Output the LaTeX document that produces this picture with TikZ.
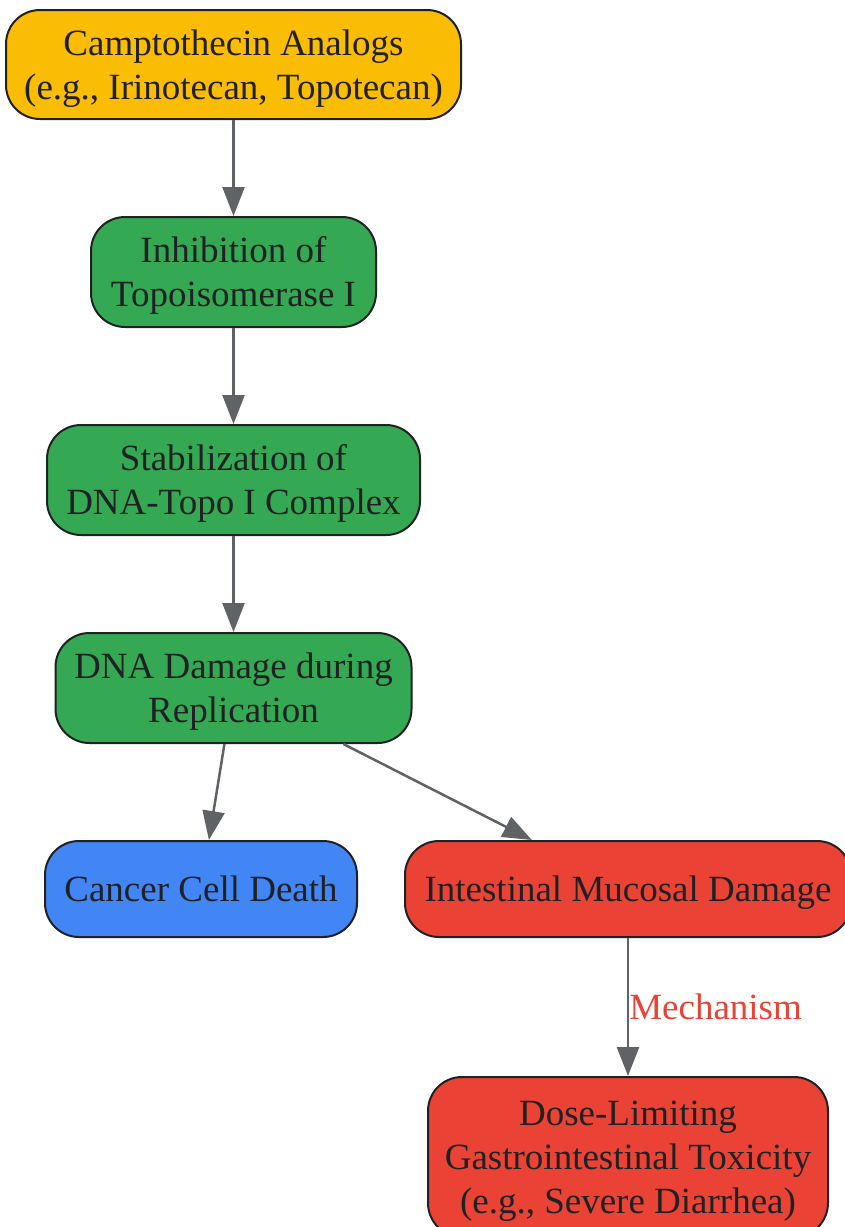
\documentclass[tikz,border=0pt]{standalone}
\usepackage{fontspec}
\setmainfont{Liberation Serif}
\usetikzlibrary{arrows.meta}
\definecolor{ink}{HTML}{202124}
\definecolor{wire}{HTML}{5F6368}
\definecolor{gyellow}{HTML}{FBBC04}
\definecolor{ggreen}{HTML}{34A853}
\definecolor{gblue}{HTML}{4285F4}
\definecolor{gred}{HTML}{EA4335}
% line box as tall as one line of the diagram
\newcommand{\lnstrut}{\rule[-9.5pt]{0pt}{44pt}}

\begin{document}
\begin{tikzpicture}[x=1pt,y=-1pt]
    \useasboundingbox (0,0) rectangle (844,1227);
    \begin{scope}[every node/.style={rectangle,rounded corners=34pt,draw=ink,line width=2pt,text=ink,
        align=center,inner sep=0pt,font=\fontsize{37}{44}\selectfont}]
        \node[fill=gyellow,minimum width=455pt,minimum height=109pt] (1) at (233.5,64.5) {\lnstrut Camptothecin Analogs\\(e.g., Irinotecan, Topotecan)\lnstrut};
        \node[fill=ggreen,minimum width=285pt,minimum height=110pt] (2) at (233.5,272) {\lnstrut Inhibition of\\Topoisomerase I\lnstrut};
        \node[fill=ggreen,minimum width=373pt,minimum height=110pt] (3) at (233.5,480) {\lnstrut Stabilization of\\DNA-Topo I Complex\lnstrut};
        \node[fill=ggreen,minimum width=356pt,minimum height=110pt] (4) at (233.5,688) {\lnstrut DNA Damage during\\Replication\lnstrut};
        \node[fill=gblue,minimum width=312pt,minimum height=96pt] (5) at (201,889) {\lnstrut Cancer Cell Death};
        \node[fill=gred,minimum width=446pt,minimum height=96pt] (6) at (628,889) {\lnstrut Intestinal Mucosal Damage};
        \node[fill=gred,minimum width=400pt,minimum height=160pt] (7) at (628,1157) {\lnstrut Dose-Limiting\\Gastrointestinal Toxicity\\(e.g., Severe Diarrhea)\lnstrut};
    \end{scope}
    \begin{scope}[>={Triangle[length=29pt,width=22pt]},
        every node/.style={anchor=west,inner sep=0pt,text=gred,font=\fontsize{37}{44}\selectfont},
        every edge/.style={draw=wire,line width=2.5pt}]
        \path [->] (1) edge (2);
        \path [->] (2) edge (3);
        \path [->] (3) edge (4);
        \path [->] (4) edge (5);
        \path [->] (4) edge (6);
        \path [->] (6) edge node {Mechanism} (7);
    \end{scope}
\end{tikzpicture}
\end{document}
